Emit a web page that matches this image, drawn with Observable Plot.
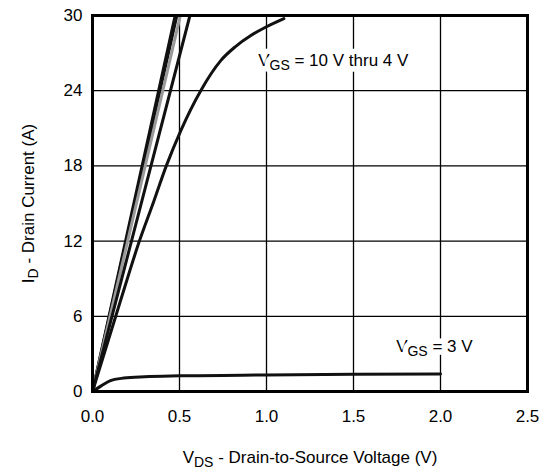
<!DOCTYPE html>
<html>
<head>
<meta charset="utf-8">
<script src="https://cdn.jsdelivr.net/npm/d3@7"></script>
<script src="https://cdn.jsdelivr.net/npm/@observablehq/plot@0.6"></script>
<style>
  html, body { margin: 0; padding: 0; background: white; }
</style>
</head>
<body>
<div id="chart"></div>
<script>
// ---- data ----
const xTicks = [0, 0.5, 1.0, 1.5, 2.0, 2.5];
const yTicks = [0, 6, 12, 18, 24, 30];

const vgs10_vds = [0, 0.475];
const vgs10_id  = [0, 30];
const vgs8_vds  = [0, 0.485];
const vgs8_id   = [0, 30];
const vgs6_vds  = [0, 0.505];
const vgs6_id   = [0, 30];
const vgs5_vds  = [0, 0.56];
const vgs5_id   = [0, 30];
const vgs4_vds  = [0, 0.16, 0.267, 0.353, 0.424, 0.507, 0.622, 0.737, 0.82, 0.91, 1.0, 1.1];
const vgs4_id   = [0, 7.2, 11.9, 15.2, 18.0, 20.8, 24.0, 26.4, 27.5, 28.4, 29.1, 29.75];
const vgs3_vds  = [0, 0.05, 0.1, 0.18, 0.3, 0.5, 1.0, 1.5, 2.0];
const vgs3_id   = [0, 0.45, 0.85, 1.07, 1.18, 1.25, 1.32, 1.37, 1.4];

const seriesNames  = ["10 V", "8 V", "6 V", "5 V", "4 V", "3 V"];
const seriesColors = ["#111", "#111", "#999", "#111", "#111", "#111"];
const seriesX = [vgs10_vds, vgs8_vds, vgs6_vds, vgs5_vds, vgs4_vds, vgs3_vds];
const seriesY = [vgs10_id, vgs8_id, vgs6_id, vgs5_id, vgs4_id, vgs3_id];

const labelTexts = ["VGS = 10 V thru 4 V", "VGS = 3 V"];
const labelX = [0.952, 1.745];
const labelY = [26.4, 3.6];

// ---- build rows ----
const rows = [];
seriesNames.forEach((s, i) => {
  seriesX[i].forEach((v, j) => rows.push({series: s, vds: v, id: seriesY[i][j]}));
});
const labels = labelTexts.map((t, i) => ({text: t, x: labelX[i], y: labelY[i]}));

const chart = Plot.plot({
  width: 540,
  height: 472,
  marginLeft: 92,
  marginRight: 13,
  marginTop: 15,
  marginBottom: 81,
  style: {fontFamily: "'Liberation Sans', Arial, sans-serif", fontSize: "17px", background: "white", color: "black"},
  x: {domain: [0, 2.5]},
  y: {domain: [0, 30]},
  color: {domain: seriesNames, range: seriesColors},
  marks: [
    Plot.gridX(xTicks, {stroke: "black", strokeOpacity: 1, strokeWidth: 1.3}),
    Plot.gridY(yTicks, {stroke: "black", strokeOpacity: 1, strokeWidth: 1.3}),
    Plot.axisX({ticks: xTicks, tickSize: 0, tickPadding: 18, tickFormat: d3.format(".1f"), fontSize: 17,
      label: "VDS - Drain-to-Source Voltage (V)", labelAnchor: "center", labelOffset: 71, labelArrow: "none"}),
    Plot.axisY({ticks: yTicks, tickSize: 0, tickPadding: 10, fontSize: 17,
      label: "ID - Drain Current (A)", labelAnchor: "center", labelOffset: 71, labelArrow: "none"}),
    Plot.line(rows, {x: "vds", y: "id", z: "series", stroke: "series", strokeWidth: 3, curve: "monotone-x", clip: true}),
    Plot.text(labels, {x: "x", y: "y", text: "text", textAnchor: "start", lineAnchor: "middle",
      fill: "black", stroke: "white", strokeWidth: 11, fontSize: 17}),
    Plot.frame({stroke: "black", strokeWidth: 3})
  ]
});

document.getElementById("chart").appendChild(chart);

// subscripts
function subscript(el, main, sub, rest) {
  const t = d3.select(el);
  t.text("");
  t.append("tspan").text(main);
  t.append("tspan").attr("dy", 4).attr("font-size", 14).text(sub);
  t.append("tspan").attr("dy", -4).text(rest);
}
d3.select(chart).selectAll("text").each(function() {
  const s = this.textContent;
  let m;
  if ((m = s.match(/^V(GS|DS)(.*)$/))) subscript(this, "V", m[1], m[2]);
  else if ((m = s.match(/^I(D)(.*)$/))) subscript(this, "I", m[1], m[2]);
});
</script>
</body>
</html>
